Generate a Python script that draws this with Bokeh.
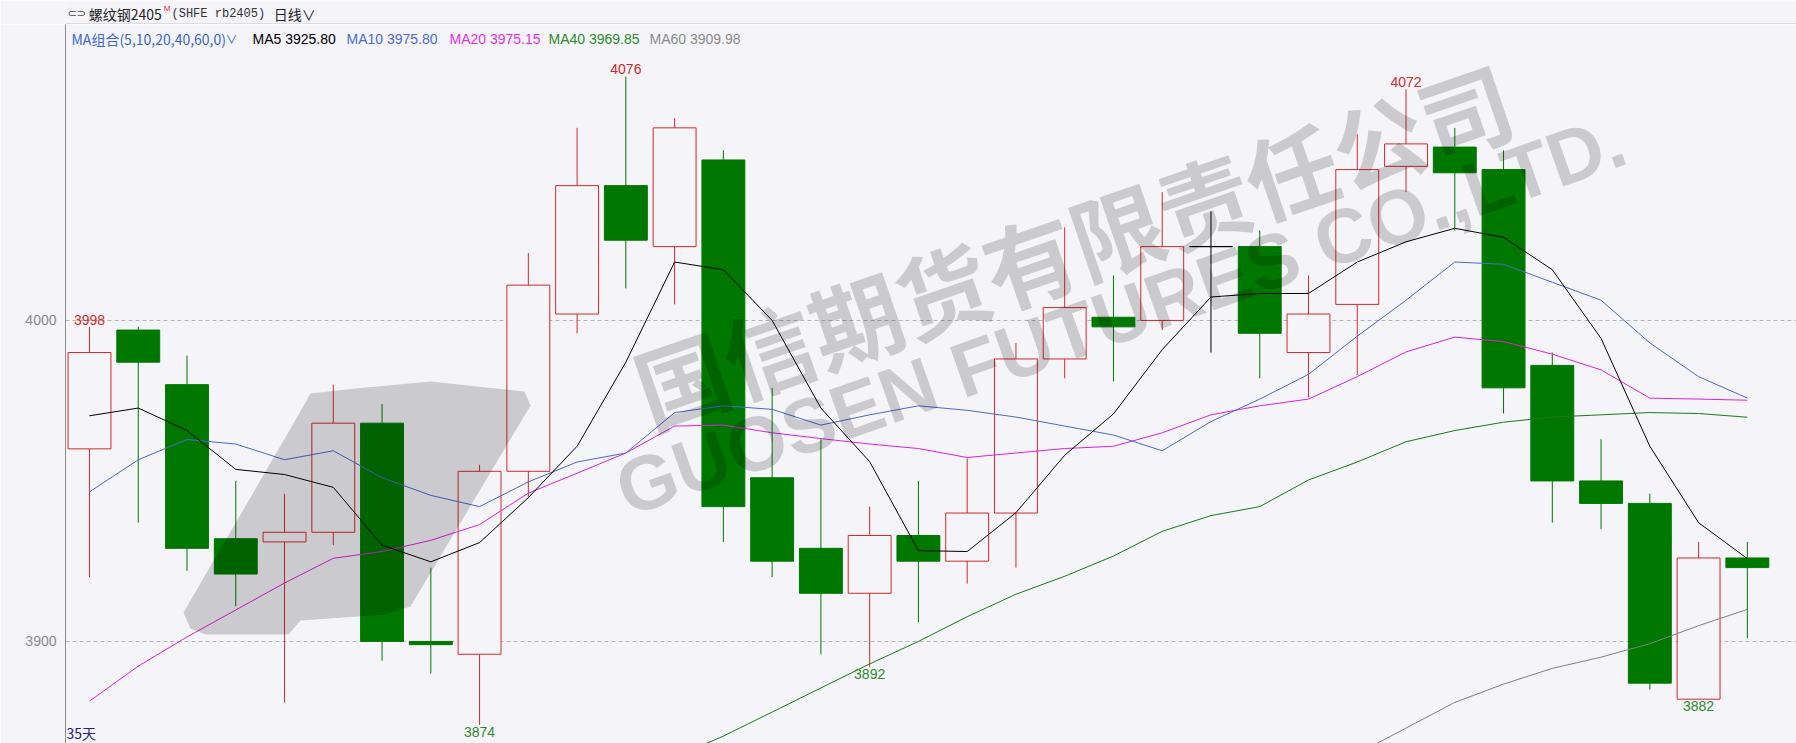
import math
from bokeh.plotting import figure
from bokeh.layouts import column
from bokeh.models import Range1d, FixedTicker, Label, PolyAnnotation, Span, ColumnDataSource
from bokeh.core.properties import value
from bokeh.embed import file_html
from bokeh.resources import INLINE

nan = float("nan")

# ---------------- data ----------------
open_ = [3960, 3997, 3980, 3932, 3931, 3934, 3968, 3900, 3896, 3953, 4002, 4042, 4023, 4050, 3951,
         3929, 3915, 3933, 3925, 3940, 3988, 4001, 4000, 4023, 4023, 3990, 4005, 4048, 4054, 4047,
         3986, 3950, 3943, 3882, 3926]
high = [3998, 3998, 3989, 3950, 3946, 3980, 3974, 3923, 3955, 4021, 4060, 4076, 4063, 4053, 3979,
        3963, 3942, 3950, 3957, 3993, 4029, 4014, 4040, 4034, 4028, 4014, 4058, 4072, 4060, 4053,
        3990, 3963, 3946, 3931, 3931]
low = [3920, 3937, 3922, 3911, 3881, 3930, 3894, 3890, 3874, 3945, 3996, 4010, 4005, 3931, 3920,
       3896, 3892, 3906, 3918, 3923, 3982, 3981, 3997, 3990, 3982, 3976, 3983, 4040, 4028, 3971,
       3937, 3935, 3885, 3882, 3901]
close = [3990, 3987, 3929, 3921, 3934, 3968, 3900, 3899, 3953, 4011, 4042, 4025, 4060, 3942, 3925,
         3915, 3933, 3925, 3940, 3988, 4004, 3998, 4023, 4023, 3996, 4002, 4047, 4055, 4046, 3979,
         3950, 3943, 3887, 3926, 3923]

ma5 = [3970.3, 3972.7, 3965.7, 3953.6, 3952.0, 3948.0, 3930.0, 3924.8, 3930.8, 3944.8, 3960.8, 3987.0,
       4018.2, 4015.8, 4000.0, 3972.7, 3956.0, 3928.3, 3928.0, 3940.1, 3958.0, 3970.9, 3990.9, 4007.3,
       4008.4, 4008.4, 4018.2, 4024.5, 4028.7, 4025.9, 4015.8, 3994.4, 3960.8, 3937.0, 3925.8]
ma10 = [3946.6, 3956.6, 3962.9, 3961.5, 3956.6, 3959.4, 3951.0, 3945.5, 3942.0, 3949.7, 3955.9, 3958.7,
        3971.3, 3973.4, 3972.3, 3967.4, 3970.6, 3973.4, 3972.0, 3969.9, 3967.1, 3964.3, 3959.4, 3968.5,
        3975.5, 3983.2, 3995.1, 4006.3, 4018.2, 4017.5, 4011.9, 4006.3, 3993.0, 3982.5, 3975.8]
ma20 = [3881.4, 3892.3, 3901.4, 3909.8, 3918.2, 3925.9, 3928.0, 3931.5, 3936.4, 3946.2, 3952.4, 3958.7,
        3967.1, 3967.4, 3965.0, 3963.2, 3961.5, 3960.1, 3957.3, 3958.7, 3960.1, 3960.8, 3965.0, 3970.6,
        3973.4, 3975.5, 3982.5, 3990.2, 3994.8, 3993.4, 3989.5, 3984.6, 3975.8, 3975.5, 3975.15]
ma40 = [nan] * 12 + [3864.0, 3870.5, 3878.0, 3885.5, 3893.0, 3900.0, 3907.7, 3914.7, 3920.3, 3926.6,
                     3934.3, 3939.2, 3942.0, 3950.3, 3955.9, 3962.2, 3965.7, 3968.3, 3969.9, 3970.6,
                     3971.3, 3971.0, 3969.85]
ma60 = [nan] * 26 + [3865.0, 3873.0, 3881.0, 3886.7, 3891.6, 3895.1, 3899.3, 3904.9, 3909.98]

y_ticks = [3900, 4000]
high_marks = [0, 11, 27]   # candles whose high is labelled
low_marks = [8, 16, 33]    # candles whose low is labelled
days_label = "35天"

legend_items = [("MA5", "3925.80"), ("MA10", "3975.80"), ("MA20", "3975.15"),
                ("MA40", "3969.85"), ("MA60", "3909.98")]

# ---------------- styling / geometry ----------------
BG = "#f4f4f9"
RED = "#d42a2a"
GREEN = "#007800"
W = 1796
HEAD_H = 24
H = 743 - HEAD_H
FRAME_L, FRAME_T, FRAME_R, FRAME_B = 65, 24, 1796, 743   # page pixels
XR = (-0.492, 35.008)
YR = (3868.2, 4092.2)


def px2x(px):
    return XR[0] + (px - FRAME_L) * (XR[1] - XR[0]) / (FRAME_R - FRAME_L)


def py2y(py):
    return YR[1] - (py - FRAME_T) * (YR[1] - YR[0]) / (FRAME_B - FRAME_T)


# ---------------- header strip ----------------
head = figure(width=W, height=HEAD_H, output_backend="svg", toolbar_location=None,
              x_range=Range1d(0, W), y_range=Range1d(0, HEAD_H),
              x_axis_location=None, y_axis_location=None,
              min_border_left=0, min_border_right=0, min_border_top=0, min_border_bottom=0,
              background_fill_color=BG, border_fill_color=BG, outline_line_color=None)
head.xgrid.visible = False
head.ygrid.visible = False
head.add_layout(Span(location=0.5, dimension="width", line_color="#c4c4c8", line_width=1))


def hlab(px, py, text, color, size, font="Noto Sans CJK SC"):
    head.add_layout(Label(x=px, y=HEAD_H - py, text=text, text_color=color, text_font_size=size,
                          text_font=font, text_baseline="middle", text_align="left"))


hlab(2, 13, "⊂⊃", "#444444", "11px", font="DejaVu Sans")
hlab(24, 13, "螺纹钢2405", "#222222", "14px")
hlab(102, 8, "M", "#e03030", "8px", font="Liberation Sans")
hlab(110, 13, "(SHFE rb2405)", "#333333", "12px", font="Liberation Mono")
hlab(216, 13, "日线∨", "#222222", "14px")

# ---------------- main chart ----------------
p = figure(width=W, height=H, output_backend="svg", toolbar_location=None,
           x_range=Range1d(*XR), y_range=Range1d(*YR), x_axis_location=None,
           min_border_left=FRAME_L, min_border_right=0, min_border_top=0,
           min_border_bottom=0, background_fill_color=BG, border_fill_color=BG,
           outline_line_color=None)

p.yaxis.ticker = FixedTicker(ticks=y_ticks)
p.yaxis.major_tick_line_color = None
p.yaxis.minor_tick_line_color = None
p.yaxis.axis_line_color = "#8c8c8c"
p.yaxis.major_label_text_color = "#8c8c8c"
p.yaxis.major_label_text_font = "Liberation Sans"
p.yaxis.major_label_text_font_size = "14px"
p.yaxis.major_label_standoff = 3
p.xgrid.visible = False
p.ygrid.ticker = FixedTicker(ticks=y_ticks)
p.ygrid.grid_line_color = "#b4b4b4"
p.ygrid.grid_line_dash = "4 3"

# candles
idx = list(range(len(close)))
line_col, fill_col, top, bottom = [], [], [], []
for o, c in zip(open_, close):
    if c > o:
        line_col.append(RED); fill_col.append(BG)
    elif c < o:
        line_col.append(GREEN); fill_col.append(GREEN)
    else:
        line_col.append("#000000"); fill_col.append("#000000")
    top.append(max(o, c)); bottom.append(min(o, c))

src = ColumnDataSource(dict(x=idx, high=high, low=low, top=top, bottom=bottom,
                            lc=line_col, fc=fill_col))
p.segment(x0="x", y0="high", x1="x", y1="low", line_color="lc", line_width=1, source=src)
p.vbar(x="x", width=0.88, top="top", bottom="bottom", fill_color="fc", line_color="lc",
       line_width=1, source=src)

# moving averages
p.line(idx, ma60, line_color="#808080", line_width=1)
p.line(idx, ma40, line_color="#1a7a1a", line_width=1)
p.line(idx, ma20, line_color="#e020e0", line_width=1)
p.line(idx, ma10, line_color="#4a68d0", line_width=1)
p.line(idx, ma5, line_color="#000000", line_width=1)

# high / low marks
p.text(x=high_marks, y=[high[i] for i in high_marks], text=[str(high[i]) for i in high_marks],
       text_align="center", text_baseline="bottom", y_offset=-2, text_color=RED,
       text_font=value("Liberation Sans"), text_font_size="14px")
p.text(x=low_marks, y=[low[i] for i in low_marks], text=[str(low[i]) for i in low_marks],
       text_align="center", text_baseline="top", y_offset=2, text_color="#2e8b2e",
       text_font=value("Liberation Sans"), text_font_size="14px")


def lab(px, py, text, color, size, font="Noto Sans CJK SC", baseline="middle"):
    p.add_layout(Label(x=px2x(px), y=py2y(py), text=text, text_color=color,
                       text_font_size=size, text_font=font, text_baseline=baseline,
                       text_align="left"))


# legend row
lab(71, 38, "MA组合(5,10,20,40,60,0)", "#3a66d0", "14px")
lab(225, 38, "∨", "#3a66d0", "12px")
leg_x = [252, 346, 449, 548, 649]
leg_c = ["#000000", "#4a6cd4", "#e033e0", "#2a8c2a", "#8a8a8a"]
for (name, val), lx, lc in zip(legend_items, leg_x, leg_c):
    lab(lx, 38, f"{name} {val}", lc, "14px", font="Liberation Sans")

lab(66, 742, days_label, "#22227a", "14px", baseline="bottom")

# watermark
logo_px = [(183, 612), (190, 628), (205, 634), (288, 634), (300, 620), (385, 614), (410, 606),
           (530, 405), (524, 391), (430, 381), (355, 388), (310, 393), (293, 423)]
p.add_layout(PolyAnnotation(xs=[px2x(a) for a, b in logo_px], ys=[py2y(b) for a, b in logo_px],
                            fill_color="#000000", fill_alpha=0.17, line_color=None))
p.add_layout(Label(x=px2x(1072), y=py2y(242), text="国信期货有限责任公司", angle=0.33,
                   text_align="center", text_baseline="middle", text_font="Noto Sans CJK SC",
                   text_font_style="bold", text_font_size="92px", text_color="#000000",
                   text_alpha=0.17))
p.add_layout(Label(x=px2x(1120), y=py2y(314), text="GUOSEN FUTURES CO.,LTD.", angle=0.34,
                   text_align="center", text_baseline="middle", text_font="Liberation Sans",
                   text_font_style="bold", text_font_size="77px", text_color="#000000",
                   text_alpha=0.17))

layout = column(head, p, spacing=0)
open("out.html", "w").write(file_html(layout, INLINE))
